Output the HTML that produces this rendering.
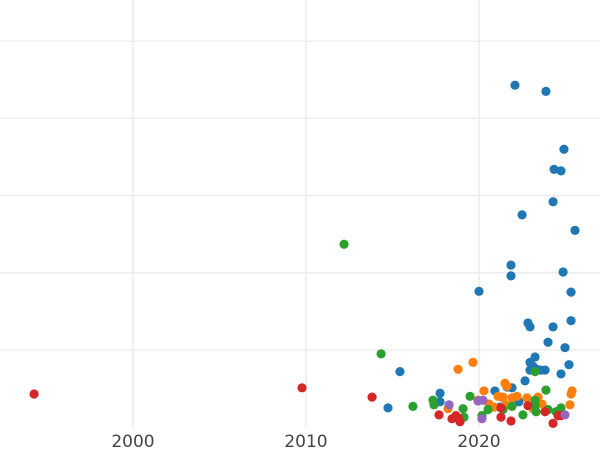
<!DOCTYPE html>
<html><head><meta charset="utf-8"><style>
html,body{margin:0;padding:0;background:#fff;}
svg{display:block;font-family:"DejaVu Sans","Liberation Sans",sans-serif;}
</style></head><body>
<svg id="chart" width="600" height="450" viewBox="0 0 600 450" xmlns="http://www.w3.org/2000/svg">
<g id="grid"></g>
<g id="xticks"></g>
<g id="marks"></g>
</svg>
<script>
const xTicks = [2000, 2010, 2020];
const yGrid = [10, 20, 30, 40, 50];
const seriesNames = ["blue", "orange", "green", "red", "purple"];
const blueX = [2022.08,2023.87,2024.91,2024.34,2024.74,2024.28,2022.49,2025.55,2021.85,2021.85,2024.86,2020.0,2025.32,2022.83,2022.95,2025.32,2024.28,2023.99,2024.97,2015.43,2024.74,2025.2,2022.95,2023.24,2023.12,2022.95,2023.35,2023.58,2023.82,2017.75,2022.66,2021.91,2020.92,2021.62,2022.31,2014.74,2017.75,2021.33,2021.21];
const blueY = [44.3,43.5,36.0,33.4,33.2,29.2,27.5,25.5,21.0,19.6,20.1,17.6,17.5,13.5,13.0,13.8,13.0,11.0,10.3,7.2,6.9,8.1,8.4,9.1,7.9,7.4,7.5,7.4,7.4,4.4,6.0,5.1,4.7,5.2,3.3,2.5,3.3,3.9,2.6];
const orangeX = [2019.65,2018.79,2020.29,2021.1,2021.39,2021.5,2021.62,2021.91,2022.77,2021.56,2020.87,2020.58,2019.94,2025.38,2025.32,2023.41,2023.64,2025.26,2018.21,2023.12,2022.2];
const orangeY = [8.4,7.5,4.7,4.0,3.9,5.7,5.3,3.8,3.8,2.9,2.6,3.0,3.5,4.7,4.3,3.9,3.0,2.9,2.4,2.4,4.0];
const greenX = [2012.2,2014.34,2016.18,2017.34,2017.4,2019.48,2019.08,2019.13,2020.52,2021.91,2021.39,2023.24,2023.87,2023.24,2023.24,2023.3,2023.99,2022.54,2024.74,2024.45,2020.17];
const greenY = [23.7,9.5,2.7,3.5,2.9,4.0,2.4,1.3,2.3,2.7,2.3,7.2,4.8,3.5,2.8,2.0,2.3,1.6,2.5,2.0,1.5];
const redX = [1994.28,2009.77,2013.82,2017.69,2018.44,2018.79,2018.9,2018.67,2021.27,2021.27,2021.85,2022.83,2023.82,2024.28,2024.57,2024.74];
const redY = [4.3,5.1,3.9,1.6,1.1,1.2,0.7,1.5,2.5,1.3,0.8,2.8,2.0,0.5,1.5,1.5];
const purpleX = [2018.27,2019.94,2020.23,2020.17,2024.97];
const purpleY = [2.9,3.4,3.5,1.1,1.6];
const seriesColors = ["#1f77b4","#ff7f0e","#2ca02c","#d62728","#9467bd"];

const NS = "http://www.w3.org/2000/svg";
function xs(v){ return 133 + (v - 2000) * 17.3; }
function ys(v){ return 427.2 - v * 7.72; }

const grid = document.getElementById('grid');
yGrid.forEach(v => {
  const l = document.createElementNS(NS, 'line');
  
  
  l.setAttribute('x1', 0); l.setAttribute('x2', 600);
  l.setAttribute('y1', ys(v)); l.setAttribute('y2', ys(v));
  l.setAttribute('stroke', '#ebebeb'); l.setAttribute('stroke-width', 1.3);
  grid.appendChild(l);
});
const xt = document.getElementById('xticks');
xTicks.forEach(v => {
  const l = document.createElementNS(NS, 'line');
  
  
  l.setAttribute('x1', xs(v)); l.setAttribute('x2', xs(v));
  l.setAttribute('y1', 0); l.setAttribute('y2', 427);
  l.setAttribute('stroke', '#ebebeb'); l.setAttribute('stroke-width', 1.5);
  grid.appendChild(l);
  const t = document.createElementNS(NS, 'text');
  
  
  t.setAttribute('x', xs(v)); t.setAttribute('y', 447);
  t.setAttribute('text-anchor', 'middle');
  t.setAttribute('font-size', 17); t.setAttribute('fill', '#444');
  t.textContent = String(v);
  xt.appendChild(t);
});
const marks = document.getElementById('marks');
const allX = [blueX, orangeX, greenX, redX, purpleX];
const allY = [blueY, orangeY, greenY, redY, purpleY];
allX.forEach((arr, s) => {
  const g = document.createElementNS(NS, 'g');
  
  
  arr.forEach((xv, i) => {
    const c = document.createElementNS(NS, 'circle');
    
    
    c.setAttribute('cx', xs(xv)); c.setAttribute('cy', ys(allY[s][i]));
    c.setAttribute('r', 4.6);
    c.setAttribute('fill', seriesColors[s]);
    g.appendChild(c);
  });
  marks.appendChild(g);
});
</script>
</body></html>
